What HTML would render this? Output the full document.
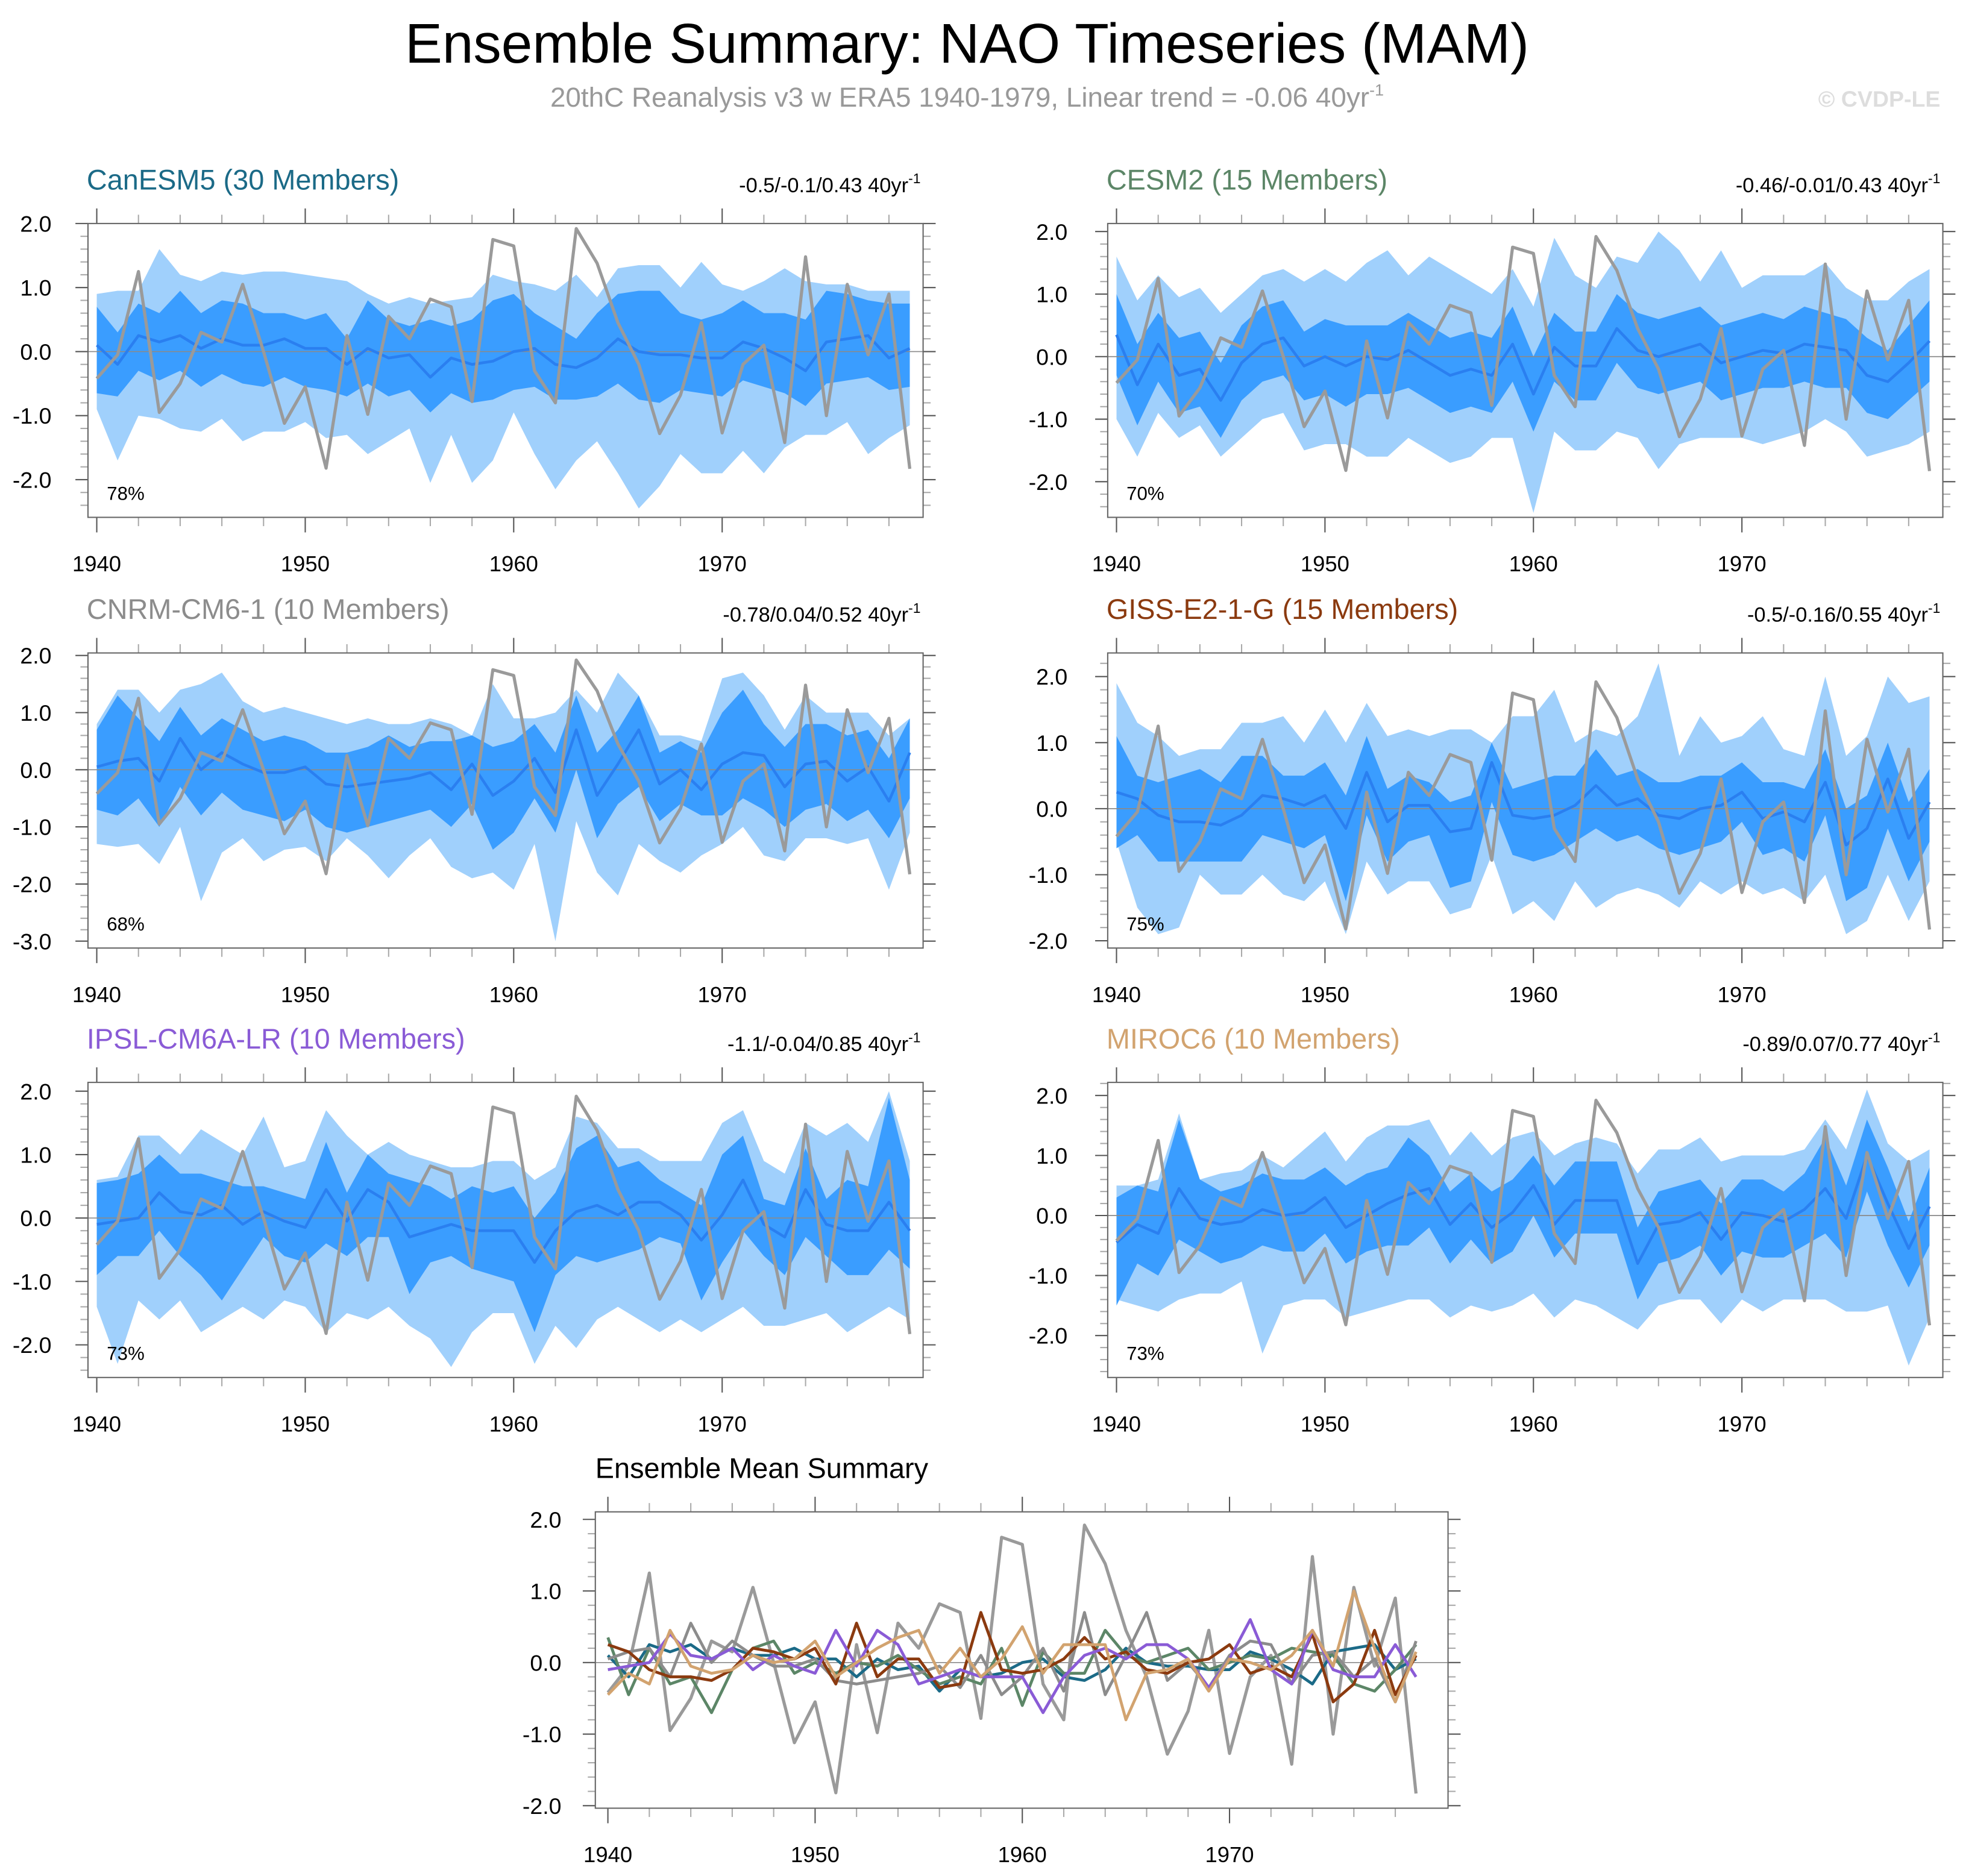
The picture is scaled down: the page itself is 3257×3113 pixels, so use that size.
<!DOCTYPE html>
<html><head><meta charset="utf-8"><style>
html,body{margin:0;padding:0;background:#fff;}
svg{display:block;font-family:"Liberation Sans",sans-serif;}
</style></head><body>
<svg id="chart" width="3257" height="3113" viewBox="0 0 1563 1494" xmlns="http://www.w3.org/2000/svg">
<rect x="0" y="0" width="1563" height="1494" fill="#fff"/>
<text x="770" y="50" font-size="44.5" text-anchor="middle" fill="#000">Ensemble Summary: NAO Timeseries (MAM)</text>
<text x="770" y="85" font-size="22" text-anchor="middle" fill="#999">20thC Reanalysis v3 w ERA5 1940-1979, Linear trend = -0.06 40yr<tspan dy="-9" font-size="13">-1</tspan></text>
<text x="1545" y="85" font-size="18" font-weight="bold" text-anchor="end" fill="#ddd">© CVDP-LE</text>
<g id="plots"></g>
</svg>
<script>
const years = Array.from({length:40},(_,i)=>1940+i);
const obs = [-0.42,-0.05,1.25,-0.95,-0.5,0.3,0.15,1.05,0.0,-1.12,-0.55,-1.82,0.25,-0.98,0.55,0.2,0.82,0.7,-0.78,1.75,1.65,-0.3,-0.8,1.92,1.38,0.45,-0.2,-1.28,-0.68,0.45,-1.27,-0.2,0.1,-1.42,1.48,-1.0,1.05,-0.05,0.9,-1.83];

const canMean=[0.1,-0.2,0.25,0.15,0.25,0.05,0.2,0.1,0.1,0.2,0.05,0.05,-0.2,0.05,-0.1,-0.05,-0.4,-0.1,-0.2,-0.15,0.0,0.05,-0.2,-0.25,-0.1,0.2,0.0,-0.05,-0.05,-0.1,-0.1,0.15,0.05,-0.1,-0.3,0.15,0.2,0.25,-0.1,0.05];
const canHi1=[0.7,0.3,0.75,0.6,0.95,0.6,0.8,0.75,0.6,0.6,0.5,0.6,0.2,0.8,0.5,0.4,0.5,0.4,0.5,0.8,0.9,0.6,0.4,0.2,0.6,0.9,0.95,0.95,0.6,0.5,0.6,0.8,0.6,0.6,0.5,0.95,0.9,0.8,0.75,0.75];
const canLo1=[-0.65,-0.7,-0.3,-0.45,-0.3,-0.55,-0.35,-0.5,-0.55,-0.4,-0.55,-0.6,-0.7,-0.5,-0.7,-0.6,-0.95,-0.65,-0.8,-0.75,-0.6,-0.55,-0.75,-0.75,-0.7,-0.5,-0.75,-0.8,-0.6,-0.65,-0.7,-0.45,-0.55,-0.65,-0.85,-0.5,-0.45,-0.4,-0.6,-0.55];
const canHi2=[0.9,0.95,0.95,1.6,1.2,1.1,1.25,1.2,1.25,1.25,1.2,1.15,1.1,0.9,0.75,0.85,0.75,0.8,0.85,1.2,1.1,1.05,0.95,1.2,0.85,1.3,1.35,1.35,1.0,1.4,1.05,0.95,1.1,1.3,1.1,1.05,1.05,0.95,0.95,0.95];
const canLo2=[-0.9,-1.7,-1.0,-1.05,-1.2,-1.25,-1.05,-1.4,-1.25,-1.25,-1.1,-1.35,-1.3,-1.6,-1.4,-1.2,-2.05,-1.3,-2.05,-1.7,-0.95,-1.6,-2.15,-1.7,-1.4,-1.9,-2.45,-2.1,-1.6,-1.9,-1.9,-1.55,-1.9,-1.5,-1.3,-1.3,-1.1,-1.6,-1.35,-1.15];

const cesmMean=[0.35,-0.45,0.2,-0.3,-0.2,-0.7,-0.1,0.2,0.3,-0.15,0.0,-0.15,0.0,-0.05,0.1,-0.1,-0.3,-0.2,-0.3,0.2,-0.6,0.15,-0.15,-0.15,0.45,0.1,0.0,0.1,0.2,-0.1,0.0,0.1,0.05,0.2,0.15,0.1,-0.3,-0.4,-0.1,0.25];
const cesmHi1=[1.0,0.2,0.7,0.3,0.4,-0.1,0.5,0.8,0.9,0.4,0.6,0.5,0.5,0.5,0.7,0.5,0.3,0.4,0.3,0.8,0.0,0.7,0.4,0.4,1.0,0.7,0.6,0.7,0.8,0.5,0.6,0.7,0.6,0.8,0.7,0.6,0.3,0.1,0.5,0.9];
const cesmLo1=[-0.3,-1.1,-0.4,-0.9,-0.8,-1.3,-0.7,-0.4,-0.3,-0.7,-0.6,-0.8,-0.6,-0.6,-0.5,-0.7,-0.9,-0.8,-0.9,-0.4,-1.2,-0.4,-0.7,-0.7,-0.1,-0.5,-0.6,-0.5,-0.4,-0.7,-0.6,-0.5,-0.5,-0.4,-0.5,-0.5,-0.9,-1.0,-0.7,-0.4];
const cesmHi2=[1.6,0.9,1.3,0.95,1.1,0.7,1.0,1.3,1.4,1.2,1.4,1.2,1.5,1.7,1.3,1.6,1.4,1.2,1.0,1.4,0.8,1.9,1.3,1.1,1.6,1.5,2.0,1.7,1.2,1.7,1.1,1.3,1.3,1.3,1.5,1.1,0.9,0.9,1.2,1.4];
const cesmLo2=[-1.0,-1.6,-0.9,-1.3,-1.1,-1.6,-1.3,-1.0,-0.9,-1.5,-1.4,-1.4,-1.6,-1.6,-1.3,-1.5,-1.7,-1.6,-1.3,-1.3,-2.5,-1.2,-1.5,-1.5,-1.2,-1.3,-1.8,-1.4,-1.3,-1.3,-1.3,-1.4,-1.3,-1.2,-1.0,-1.2,-1.6,-1.5,-1.4,-1.2];

const cnrmMean=[0.05,0.15,0.2,-0.2,0.55,0.0,0.3,0.1,-0.05,-0.05,0.05,-0.25,-0.3,-0.25,-0.2,-0.15,-0.05,-0.35,0.1,-0.45,-0.2,0.2,-0.4,0.7,-0.45,0.1,0.7,-0.25,0.0,-0.35,0.1,0.3,0.25,-0.3,0.1,0.15,-0.2,0.05,-0.55,0.3];
const cnrmHi1=[0.7,1.3,0.9,0.5,1.1,0.6,0.9,0.7,0.5,0.6,0.5,0.3,0.3,0.4,0.6,0.4,0.5,0.5,0.6,0.4,0.5,0.8,0.3,1.3,0.3,0.7,1.3,0.3,0.5,0.3,1.0,1.4,0.8,0.4,0.8,0.8,0.6,0.7,0.2,0.9];
const cnrmLo1=[-0.7,-0.8,-0.5,-1.0,-0.3,-0.8,-0.4,-0.7,-0.8,-0.9,-0.7,-1.0,-1.1,-1.0,-0.9,-0.8,-0.7,-1.0,-0.6,-1.4,-1.1,-0.5,-1.1,0.0,-1.2,-0.6,-0.3,-0.9,-0.6,-0.8,-0.8,-0.5,-0.7,-1.0,-0.7,-0.6,-0.9,-0.7,-1.2,-0.5];
const cnrmHi2=[0.8,1.4,1.4,1.0,1.4,1.5,1.7,1.2,1.0,1.1,1.0,0.9,0.8,0.9,0.8,0.8,0.9,0.8,0.6,1.5,0.9,0.9,1.0,1.4,1.0,1.7,1.3,0.6,0.6,0.5,1.6,1.7,1.3,0.7,1.3,1.0,1.0,1.0,0.6,0.9];
const cnrmLo2=[-1.3,-1.35,-1.3,-1.65,-1.0,-2.3,-1.45,-1.2,-1.6,-1.4,-1.35,-1.6,-1.2,-1.5,-1.9,-1.5,-1.2,-1.7,-1.9,-1.8,-2.1,-1.3,-3.0,-0.9,-1.8,-2.2,-1.3,-1.6,-1.8,-1.5,-1.3,-1.0,-1.5,-1.6,-1.2,-1.2,-1.3,-1.2,-2.1,-1.1];

const gissMean=[0.25,0.15,-0.1,-0.2,-0.2,-0.25,-0.1,0.2,0.15,0.05,0.2,-0.3,0.55,-0.2,0.05,0.05,-0.35,-0.3,0.7,-0.1,-0.15,-0.1,0.05,0.35,0.05,0.15,-0.1,-0.15,0.0,0.05,0.25,-0.15,-0.05,-0.2,0.4,-0.55,-0.3,0.45,-0.45,0.1];
const gissHi1=[1.1,0.5,0.4,0.5,0.6,0.4,0.8,0.8,0.5,0.5,0.7,0.2,1.1,0.3,0.5,0.4,0.1,0.2,1.0,0.3,0.4,0.5,0.5,0.9,0.5,0.6,0.4,0.4,0.5,0.5,0.7,0.4,0.4,0.3,0.9,0.0,0.2,1.0,0.1,0.6];
const gissLo1=[-0.6,-0.4,-0.8,-0.8,-0.8,-0.8,-0.8,-0.4,-0.5,-0.6,-0.4,-1.4,-0.1,-0.8,-0.5,-0.4,-1.2,-1.1,0.1,-0.7,-0.8,-0.7,-0.5,-0.3,-0.5,-0.4,-0.6,-0.7,-0.6,-0.5,-0.2,-0.7,-0.6,-0.8,-0.1,-1.4,-1.2,-0.3,-1.1,-0.5];
const gissHi2=[1.9,1.3,1.1,0.8,0.9,0.9,1.3,1.3,1.4,1.0,1.5,1.0,1.6,1.1,1.2,1.1,1.2,1.2,1.0,1.4,1.4,1.8,1.0,1.2,1.1,1.4,2.2,0.8,1.4,1.0,1.1,1.4,0.9,0.8,2.0,0.8,1.1,2.0,1.6,1.7];
const gissLo2=[-0.5,-1.5,-1.9,-1.8,-1.0,-1.3,-1.3,-1.0,-1.3,-1.4,-1.1,-1.9,-0.8,-1.3,-1.1,-1.1,-1.6,-1.5,-0.7,-1.6,-1.4,-1.7,-1.1,-1.5,-1.3,-1.2,-1.3,-1.5,-1.1,-1.3,-1.1,-1.3,-1.2,-1.4,-1.0,-1.9,-1.7,-1.0,-1.7,-1.1];

const ipslMean=[-0.1,-0.05,0.0,0.4,0.1,0.05,0.2,-0.1,0.1,-0.05,-0.15,0.45,-0.05,0.45,0.25,-0.3,-0.2,-0.1,-0.2,-0.2,-0.2,-0.7,-0.2,0.1,0.2,0.05,0.25,0.25,0.05,-0.35,0.05,0.6,-0.1,-0.3,0.45,-0.1,-0.2,-0.2,0.25,-0.2];
const ipslHi1=[0.55,0.6,0.7,1.0,0.7,0.7,0.6,0.5,0.5,0.4,0.3,1.2,0.4,1.0,0.7,0.6,0.5,0.3,0.5,0.4,0.5,0.0,0.4,1.1,1.3,0.8,0.9,0.6,0.4,0.2,1.0,1.3,0.3,0.2,1.1,0.3,0.6,0.5,1.9,0.6];
const ipslLo1=[-0.9,-0.6,-0.6,-0.2,-0.6,-0.9,-1.3,-0.8,-0.3,-0.6,-0.7,-0.4,-0.6,-0.3,-0.3,-1.2,-0.7,-0.6,-0.8,-0.9,-1.0,-1.8,-0.9,-0.6,-0.7,-0.6,-0.5,-0.3,-0.4,-1.3,-0.7,-0.2,-0.6,-0.9,-0.3,-0.6,-0.9,-0.9,-0.5,-0.8];
const ipslHi2=[0.6,0.65,1.3,1.3,1.0,1.4,1.2,1.0,1.6,0.8,0.9,1.7,1.3,1.0,1.2,1.0,0.9,0.8,0.8,0.9,0.9,0.6,0.8,1.6,1.5,1.1,1.1,0.9,0.9,0.9,1.5,1.7,0.9,0.7,1.5,1.3,1.5,1.2,2.0,0.9];
const ipslLo2=[-1.4,-2.3,-1.3,-1.6,-1.3,-1.8,-1.6,-1.4,-1.6,-1.3,-1.4,-1.8,-1.5,-1.6,-1.4,-1.7,-1.9,-2.35,-1.8,-1.5,-1.5,-2.3,-1.7,-2.05,-1.6,-1.4,-1.6,-1.8,-1.6,-1.8,-1.6,-1.4,-1.7,-1.7,-1.6,-1.5,-1.8,-1.6,-1.4,-1.6];

const mirocMean=[-0.45,-0.15,-0.3,0.45,-0.05,-0.15,-0.1,0.1,0.0,0.05,0.3,-0.2,0.0,0.2,0.35,0.45,-0.15,0.2,-0.2,0.05,0.5,-0.15,0.25,0.25,0.25,-0.8,-0.15,-0.1,0.05,-0.4,0.05,0.0,-0.1,0.1,0.45,-0.05,1.0,0.2,-0.55,0.15];
const mirocHi1=[0.3,0.5,0.4,1.6,0.6,0.4,0.5,0.7,0.6,0.6,0.8,0.5,0.7,0.8,1.3,1.0,0.4,0.7,0.4,0.6,1.0,0.5,0.9,0.9,0.9,-0.2,0.4,0.5,0.6,0.2,0.6,0.6,0.4,0.7,1.3,0.5,1.6,0.8,-0.1,0.8];
const mirocLo1=[-1.5,-0.8,-1.0,-0.4,-0.6,-0.8,-0.7,-0.5,-0.6,-0.6,-0.3,-0.8,-0.6,-0.5,-0.5,-0.2,-0.8,-0.4,-0.8,-0.6,0.0,-0.7,-0.3,-0.3,-0.3,-1.4,-0.8,-0.7,-0.5,-1.0,-0.6,-0.7,-0.7,-0.5,-0.3,-0.7,0.4,-0.5,-1.2,-0.5];
const mirocHi2=[0.5,0.5,0.6,1.7,0.6,0.7,0.75,1.0,0.8,1.1,1.4,0.9,1.3,1.5,1.5,1.6,1.0,1.4,1.0,1.3,1.4,1.0,1.2,1.3,1.2,0.7,1.1,1.1,1.3,0.9,1.0,1.0,1.0,1.1,1.6,1.1,2.1,1.2,0.9,1.1];
const mirocLo2=[-1.4,-1.5,-1.6,-1.4,-1.3,-1.3,-1.1,-2.3,-1.5,-1.4,-1.4,-1.7,-1.6,-1.5,-1.4,-1.4,-1.7,-1.5,-1.6,-1.5,-1.3,-1.7,-1.4,-1.5,-1.7,-1.9,-1.5,-1.4,-1.4,-1.8,-1.4,-1.6,-1.4,-1.4,-1.4,-1.6,-1.6,-1.5,-2.5,-1.7];

const modelNames=["CanESM5 (30 Members)","CESM2 (15 Members)","CNRM-CM6-1 (10 Members)","GISS-E2-1-G (15 Members)","IPSL-CM6A-LR (10 Members)","MIROC6 (10 Members)"];
const modelTrends=["-0.5/-0.1/0.43","-0.46/-0.01/0.43","-0.78/0.04/0.52","-0.5/-0.16/0.55","-1.1/-0.04/0.85","-0.89/0.07/0.77"];
const modelPct=["78%","70%","68%","75%","73%","73%"];
const yTickLabels=[["2.0","1.0","0.0","-1.0","-2.0"],["2.0","1.0","0.0","-1.0","-2.0"],["2.0","1.0","0.0","-1.0","-2.0","-3.0"],["2.0","1.0","0.0","-1.0","-2.0"],["2.0","1.0","0.0","-1.0","-2.0"],["2.0","1.0","0.0","-1.0","-2.0"]];
const xTickYears=[1940,1950,1960,1970];

const modelColors=["#1b6a87","#5c8667","#8c8c8c","#8b3a0f","#8a5bd6","#d2a36f"];
const series=[
 [canMean,canHi1,canLo1,canHi2,canLo2],[cesmMean,cesmHi1,cesmLo1,cesmHi2,cesmLo2],
 [cnrmMean,cnrmHi1,cnrmLo1,cnrmHi2,cnrmLo2],[gissMean,gissHi1,gissLo1,gissHi2,gissLo2],
 [ipslMean,ipslHi1,ipslLo1,ipslHi2,ipslLo2],[mirocMean,mirocHi1,mirocLo1,mirocHi2,mirocLo2]];
const layout=[
 {x0:70,x1:735,y0:178,y1:412,z:280,k:51,yr0:77,lab:29},
 {x0:882,x1:1547,y0:178,y1:412,z:284,k:49.8,yr0:889,lab:32},
 {x0:70,x1:735,y0:520,y1:755,z:613,k:45.5,yr0:77,lab:29},
 {x0:882,x1:1547,y0:520,y1:755,z:644,k:52.6,yr0:889,lab:32},
 {x0:70,x1:735,y0:862,y1:1097,z:970,k:50.5,yr0:77,lab:29},
 {x0:882,x1:1547,y0:862,y1:1097,z:968,k:47.8,yr0:889,lab:32}];

const NS="http://www.w3.org/2000/svg";
const root=document.getElementById('plots');
function mk(tag,attrs,parent){const e=document.createElementNS(NS,tag);for(const a in attrs)e.setAttribute(a,attrs[a]);parent.appendChild(e);return e;}

function drawAxes(g,L,xs,ys,labels){
  const ax=mk('g',{},g);
  
  
  const vmax=(L.z-L.y0)/L.k, vmin=(L.z-L.y1)/L.k;
  for(let v=Math.ceil(vmin*5)/5; v<=vmax+1e-6; v+=0.2){
    const r=Math.round(v*5)/5, y=ys(r), major=Math.abs(r-Math.round(r))<1e-6, len=major?10:6;
    mk('line',{x1:L.x0-len,x2:L.x0,y1:y,y2:y,stroke:major?'#555':'#aaa','stroke-width':1},ax);
    mk('line',{x1:L.x1,x2:L.x1+len,y1:y,y2:y,stroke:major?'#555':'#aaa','stroke-width':1},ax);
  }
  labels.forEach(t=>{const tl=mk('text',{x:L.x0-L.lab,y:ys(parseFloat(t))+6.5,'font-size':18,'text-anchor':'end',fill:'#000'},ax);tl.textContent=t;
    
    });
  for(let yr=1940; yr<=1979; yr+=2){
    const x=xs(yr), major=yr%10===0, len=major?12:7;
    mk('line',{x1:x,x2:x,y1:L.y0-len,y2:L.y0,stroke:major?'#555':'#aaa','stroke-width':1},ax);
    mk('line',{x1:x,x2:x,y1:L.y1,y2:L.y1+len,stroke:major?'#555':'#aaa','stroke-width':1},ax);
  }
  xTickYears.forEach(yr=>{const tl=mk('text',{x:xs(yr),y:L.y1+43,'font-size':17.5,'text-anchor':'middle',fill:'#000'},ax);tl.textContent=yr;
    
    });
  mk('rect',{x:L.x0,y:L.y0,width:L.x1-L.x0,height:L.y1-L.y0,fill:'none',stroke:'#666','stroke-width':1},ax);
}
function linePath(xs,ys,vals){return vals.map((v,i)=>(i?'L':'M')+xs(years[i]).toFixed(2)+','+ys(v).toFixed(2)).join('');}
function bandPath(xs,ys,hi,lo){let d=hi.map((v,i)=>(i?'L':'M')+xs(years[i]).toFixed(2)+','+ys(v).toFixed(2)).join('');
  for(let i=lo.length-1;i>=0;i--)d+='L'+xs(years[i]).toFixed(2)+','+ys(lo[i]).toFixed(2);return d+'Z';}

layout.forEach((L,p)=>{
  const g=mk('g',{},root);
  
  
  const xs=yr=>L.yr0+(yr-1940)*16.6;
  const ys=v=>L.z-v*L.k;
  const [mean,hi1,lo1,hi2,lo2]=series[p];
  const b2=mk('path',{d:bandPath(xs,ys,hi2,lo2),fill:'#a0d0fc',stroke:'none'},g);
  
  
  const b1=mk('path',{d:bandPath(xs,ys,hi1,lo1),fill:'#3a9dff',stroke:'none'},g);
  
  
  mk('line',{x1:L.x0,x2:L.x1,y1:ys(0),y2:ys(0),stroke:'#8a8a8a','stroke-width':0.8},g);
  const m=mk('path',{d:linePath(xs,ys,mean),fill:'none',stroke:'#2a7ff0','stroke-width':2.2,'stroke-linejoin':'round'},g);
  
  
  const o=mk('path',{d:linePath(xs,ys,obs),fill:'none',stroke:'#9a9a9a','stroke-width':2.5,'stroke-linejoin':'round'},g);
  
  
  drawAxes(g,L,xs,ys,yTickLabels[p]);
  const t=mk('text',{x:L.x0-1,y:L.y0-27,'font-size':22.5,fill:modelColors[p]},g);t.textContent=modelNames[p];
  
  
  const tr=mk('text',{x:L.x1-2,y:L.y0-25,'font-size':16.5,'text-anchor':'end',fill:'#000'},g);
  tr.innerHTML=modelTrends[p]+' 40yr<tspan dy="-7" font-size="11">-1</tspan>';
  
  
  const pc=mk('text',{x:L.x0+15,y:L.y1-14,'font-size':15,fill:'#000'},g);pc.textContent=modelPct[p];
  
  
});

(function(){
  const L={x0:474,x1:1153,y0:1204,y1:1440,z:1324,k:57,yr0:484,lab:27};
  const g=mk('g',{},root);
  
  
  const xs=yr=>L.yr0+(yr-1940)*16.5;
  const ys=v=>L.z-v*L.k;
  mk('line',{x1:L.x0,x2:L.x1,y1:ys(0),y2:ys(0),stroke:'#8a8a8a','stroke-width':0.8},g);
  const o=mk('path',{d:linePath(xs,ys,obs),fill:'none',stroke:'#9a9a9a','stroke-width':2.5,'stroke-linejoin':'round'},g);
  
  
  series.forEach((s,p)=>{
    const l=mk('path',{d:linePath(xs,ys,s[0]),fill:'none',stroke:modelColors[p],'stroke-width':2.3,'stroke-linejoin':'round'},g);
    
    
  });
  drawAxes(g,L,xs,ys,["2.0","1.0","0.0","-1.0","-2.0"]);
  const t=mk('text',{x:L.x0,y:L.y0-27,'font-size':22.5,fill:'#000'},g);t.textContent='Ensemble Mean Summary';
  
  
})();
</script>
</body></html>
